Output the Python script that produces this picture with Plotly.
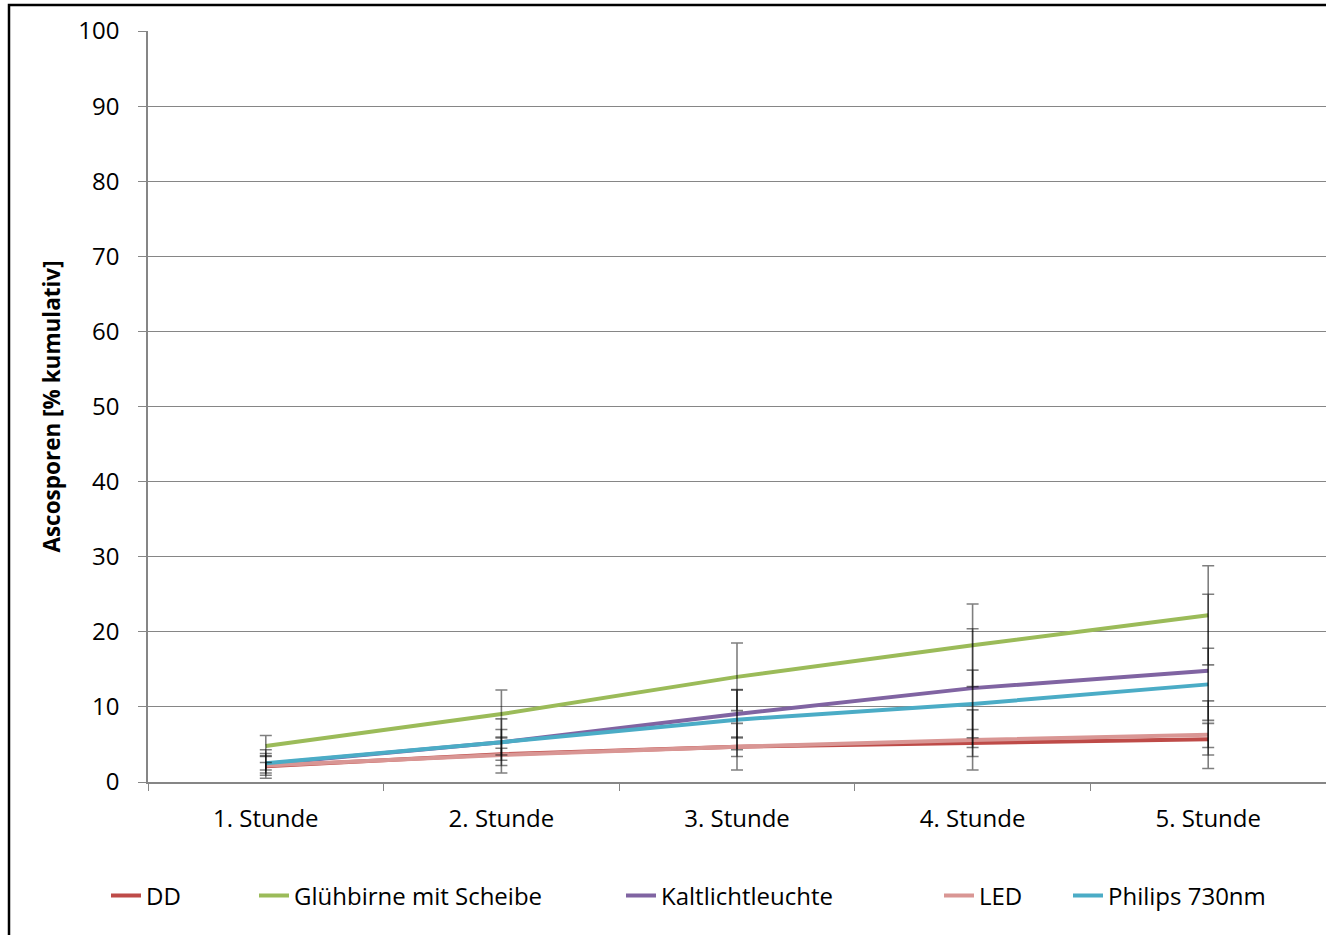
import plotly.graph_objects as go

# Hours after start of the experiment
stunden = ["1. Stunde", "2. Stunde", "3. Stunde", "4. Stunde", "5. Stunde"]

# Cumulative ascospore release [%] per light treatment, with standard deviations
dd = [2.1, 3.7, 4.7, 5.2, 5.7]
dd_sd = [0.5, 0.8, 1.3, 1.8, 2.1]

gluehbirne = [4.8, 9.05, 14.0, 18.2, 22.2]
gluehbirne_sd = [1.4, 3.2, 4.5, 5.5, 6.6]

kaltlicht = [2.4, 5.3, 9.05, 12.5, 14.8]
kaltlicht_sd = [1.9, 3.1, 3.2, 7.9, 10.2]

led = [2.2, 3.6, 4.7, 5.6, 6.3]
led_sd = [1.3, 2.4, 3.1, 4.0, 4.5]

philips = [2.5, 5.3, 8.3, 10.4, 13.0]
philips_sd = [1.3, 1.7, 4.0, 4.5, 4.8]

series = [
    ("DD", dd, dd_sd, "#BE4B48"),
    ("Glühbirne mit Scheibe", gluehbirne, gluehbirne_sd, "#9BBB59"),
    ("Kaltlichtleuchte", kaltlicht, kaltlicht_sd, "#8064A2"),
    ("LED", led, led_sd, "#D99694"),
    ("Philips 730nm", philips, philips_sd, "#4BACC6"),
]

FONT = "Open Sans"
FSIZE = 24

W, H = 1326, 935
ML, MR, MT, MB = 148, 0, 31, 153
PW = W - ML - MR
PH = H - MT - MB


def px_to_paper_x(px):
    return (px - ML) / PW


def px_to_paper_y(py):
    return (H - MB - py) / PH


# Left pixel position of each legend entry along the bottom row
legend_left_px = [106, 254, 621, 939, 1068]
legend_ids = ["legend", "legend2", "legend3", "legend4", "legend5"]

fig = go.Figure()

# Lines, each with its own legend entry box
for (name, vals, sd, color), lid in zip(series, legend_ids):
    fig.add_trace(go.Scatter(
        x=stunden, y=vals, name=name, mode="lines",
        line=dict(color=color, width=4), legend=lid,
    ))

# Error bars drawn on top of all lines
for name, vals, sd, color in series:
    fig.add_trace(go.Scatter(
        x=stunden, y=vals, mode="markers", showlegend=False, hoverinfo="skip",
        marker=dict(size=1, color="rgba(0,0,0,0)"),
        error_y=dict(type="data", array=sd, visible=True,
                     color="rgba(0,0,0,0.5)", thickness=1.6, width=6),
    ))

legend_layouts = {}
for lid, lx in zip(legend_ids, legend_left_px):
    legend_layouts[lid] = dict(
        orientation="h", x=px_to_paper_x(lx), xanchor="left",
        y=px_to_paper_y(896), yanchor="middle",
        font=dict(family=FONT, size=FSIZE, color="#000000"),
        bgcolor="rgba(0,0,0,0)", borderwidth=0,
    )

fig.update_layout(
    width=W, height=H,
    margin=dict(l=ML, r=MR, t=MT, b=MB),
    paper_bgcolor="white", plot_bgcolor="white",
    font=dict(family=FONT, size=FSIZE, color="#000000"),
    showlegend=True,
    xaxis=dict(
        type="category", showgrid=False,
        showline=True, linecolor="#868686", linewidth=1.5,
        ticks="outside", tickson="boundaries", ticklen=7, tickcolor="#868686",
        tickfont=dict(family=FONT, size=FSIZE, color="#000000"),
        ticklabelstandoff=14,
        range=[-0.5, 4.5],
    ),
    yaxis=dict(
        range=[0, 100], dtick=10,
        showgrid=True, gridcolor="#868686", gridwidth=1,
        showline=True, linecolor="#868686", linewidth=1.5,
        ticks="outside", ticklen=8, tickcolor="#868686",
        tickfont=dict(family=FONT, size=FSIZE, color="#000000"),
        ticklabelstandoff=14,
        zeroline=False,
        title=dict(text="<b>Ascosporen [% kumulativ]</b>",
                   font=dict(family=FONT, size=22.5, color="#000000"), standoff=11),
    ),
    **legend_layouts,
)

# Chart-area frame
fig.add_shape(type="rect", xref="paper", yref="paper",
              x0=px_to_paper_x(9), x1=px_to_paper_x(1380),
              y0=px_to_paper_y(980), y1=px_to_paper_y(5),
              line=dict(color="#000000", width=2.5), fillcolor="rgba(0,0,0,0)",
              layer="below")

fig.write_html("out.html")
